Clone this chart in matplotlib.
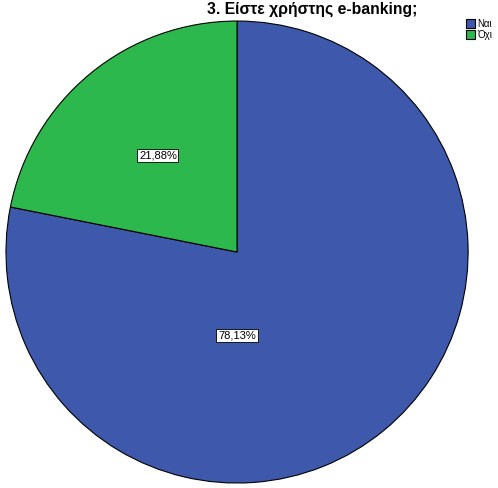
import numpy as np
import matplotlib
matplotlib.use("Agg")
import matplotlib.pyplot as plt

categories = ["Ναι", "Όχι"]
values = [78.13, 21.88]
colors = ["#3e58ac", "#2db84d"]
label_dist = [0.36, 0.54]
label_angle_shift = [-39.4, 0.0]  # SPSS puts the big label straight below centre

plt.rcParams["font.family"] = ["Liberation Sans", "DejaVu Sans"]

fig = plt.figure(figsize=(4.98, 4.88), dpi=100)
ax = fig.add_axes([0.012, 0.0102, 0.928, 0.9467])
wedges, _ = ax.pie(values, colors=colors, startangle=90, counterclock=False,
                   radius=1.0, wedgeprops=dict(edgecolor="black", linewidth=0.8))
ax.set_xlim(-1, 1)
ax.set_ylim(-1, 1)
ax.set_aspect("auto")

for w, v, d, s in zip(wedges, values, label_dist, label_angle_shift):
    mid = np.deg2rad((w.theta1 + w.theta2) / 2 + s)
    ax.text(d * np.cos(mid), d * np.sin(mid), f"{v:.2f}%".replace(".", ","),
            ha="center", va="center", fontsize=8,
            bbox=dict(boxstyle="square,pad=0.15", fc="white", ec="black", lw=0.6))

fig.text(0.627, 0.981, "3. Είστε χρήστης e-banking;", ha="center", va="center",
         fontsize=11.3, fontweight="bold")

fig.legend(wedges, categories, loc="upper left", bbox_to_anchor=(0.935, 0.962),
           frameon=False, fontsize=7, handlelength=1.0, handleheight=1.0,
           handletextpad=0.2, labelspacing=0.15, borderaxespad=0, borderpad=0)

fig.savefig("out.png", dpi=100, facecolor="white")
